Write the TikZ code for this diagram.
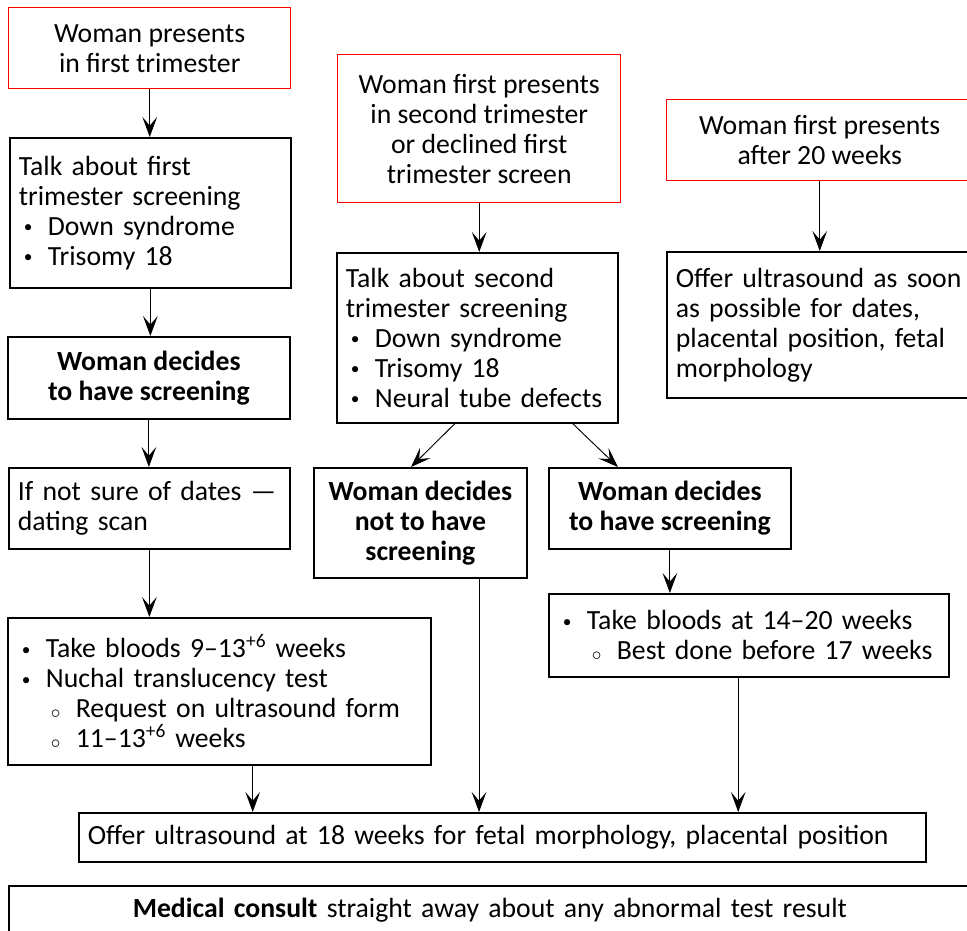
\documentclass[tikz,border=0pt]{standalone}
\usepackage{fontspec}
\setmainfont{Carlito}
\usetikzlibrary{arrows.meta}
\newcommand{\itm}[1]{\hspace*{3.75pt}\makebox[18pt][l]{\raisebox{1.8pt}{\fontsize{13}{13}\selectfont\textbullet}}#1}
\newcommand{\subitm}[1]{\hspace*{25.5pt}\makebox[18.75pt][l]{\raisebox{-0.5pt}{$\scriptstyle\circ$}}#1}
\begin{document}
\begin{tikzpicture}[x=0.75pt,y=-0.75pt,
  box/.style={draw=black, line width=1.3pt, inner sep=0pt, anchor=north west,
    font=\fontsize{20.8}{22.5}\selectfont},
  redbox/.style={box, draw=red, line width=1.1pt},
  cbox/.style={align=center},
  lbox/.style={align=left, text width=#1},
  arr/.style={-{Stealth[length=15pt,width=11pt,inset=6.5pt]}, line width=0.7pt}]
\useasboundingbox (0,0) rectangle (967,931);
\clip (0,0) rectangle (967,931);

% left column
\node[redbox, cbox, minimum width=211.5pt, minimum height=60.75pt] (A) at (8,7)
  {Woman presents\\in first trimester};
\node[box, lbox=197.25pt, minimum width=210.75pt, minimum height=112.5pt] (B) at (9,137)
  {Talk about first\\trimester screening\\\itm{Down syndrome}\\\itm{Trisomy 18}};
\node[box, cbox, font=\fontsize{20.8}{22.5}\selectfont\bfseries, minimum width=211.5pt, minimum height=61.5pt] (C) at (7,336)
  {Woman decides\\to have screening};
\node[box, lbox=197.25pt, minimum width=210.75pt, minimum height=60.75pt] (D) at (8,467)
  {If not sure of dates —\\dating scan};
\node[box, lbox=303.75pt, minimum width=317.25pt, minimum height=110.25pt] (E) at (7,617)
  {\itm{Take bloods 9–13\textsuperscript{+6} weeks}\\\itm{Nuchal translucency test}\\\subitm{Request on ultrasound form}\\\subitm{11–13\textsuperscript{+6} weeks}};

% middle column
\node[redbox, cbox, minimum width=212.25pt, minimum height=111pt] (F) at (337,54)
  {Woman first presents\\in second trimester\\or declined first\\trimester screen};
\node[box, lbox=197.25pt, minimum width=210.75pt, minimum height=127.5pt] (G) at (336,252)
  {Talk about second\\trimester screening\\\itm{Down syndrome}\\\itm{Trisomy 18}\\\itm{Neural tube defects}};
\node[box, cbox, font=\fontsize{20.8}{22.5}\selectfont\bfseries, minimum width=159.75pt, minimum height=82.5pt] (N) at (313,467)
  {Woman decides\\not to have\\screening};
\node[box, cbox, font=\fontsize{20.8}{22.5}\selectfont\bfseries, minimum width=181.5pt, minimum height=60.75pt] (Y) at (548,467)
  {Woman decides\\to have screening};
\node[box, lbox=286.5pt, minimum width=300pt, minimum height=62.25pt] (T) at (548,593)
  {\itm{Take bloods at 14–20 weeks}\\\subitm{Best done before 17 weeks}};

% right column
\node[redbox, cbox, minimum width=229.5pt, minimum height=60.75pt] (R1) at (666,99)
  {Woman first presents\\after 20 weeks};
\node[box, lbox=216pt, minimum width=229.5pt, minimum height=109.5pt] (R2) at (666,251)
  {Offer ultrasound as soon\\as possible for dates,\\placental position, fetal\\morphology};

% bottom
\node[box, lbox=621.75pt, minimum width=635.25pt, minimum height=36.75pt] (H) at (78,812)
  {Offer ultrasound at 18 weeks for fetal morphology, placental position};
\node[box, align=center, text width=721.5pt, inner ysep=9pt, text depth=40pt] (M) at (8,885)
  {\textbf{Medical consult} straight away about any abnormal test result};

% connectors
\draw[arr] (A.south) -- (A.south |- B.north);
\draw[arr] (B.south) -- (B.south |- C.north);
\draw[arr] (C.south) -- (C.south |- D.north);
\draw[arr] (D.south) -- (D.south |- E.north);
\draw[arr] ([xshift=25pt]E.south) -- ([xshift=25pt]E.south |- H.north);
\draw[arr] (F.south) -- (F.south |- G.north);
\draw[arr] ([xshift=-17pt]G.south) -- ([xshift=-7pt]N.north);
\draw[arr] ([xshift=71.6pt]G.south) -- ([xshift=-39pt]Y.north);
\draw[arr] ([xshift=44pt]N.south) -- ([xshift=44pt]N.south |- H.north);
\draw[arr] (Y.south) -- (Y.south |- T.north);
\draw[arr] ([xshift=-8pt]T.south) -- ([xshift=-8pt]T.south |- H.north);
\draw[arr] (R1.south) -- (R1.south |- R2.north);
\end{tikzpicture}
\end{document}
